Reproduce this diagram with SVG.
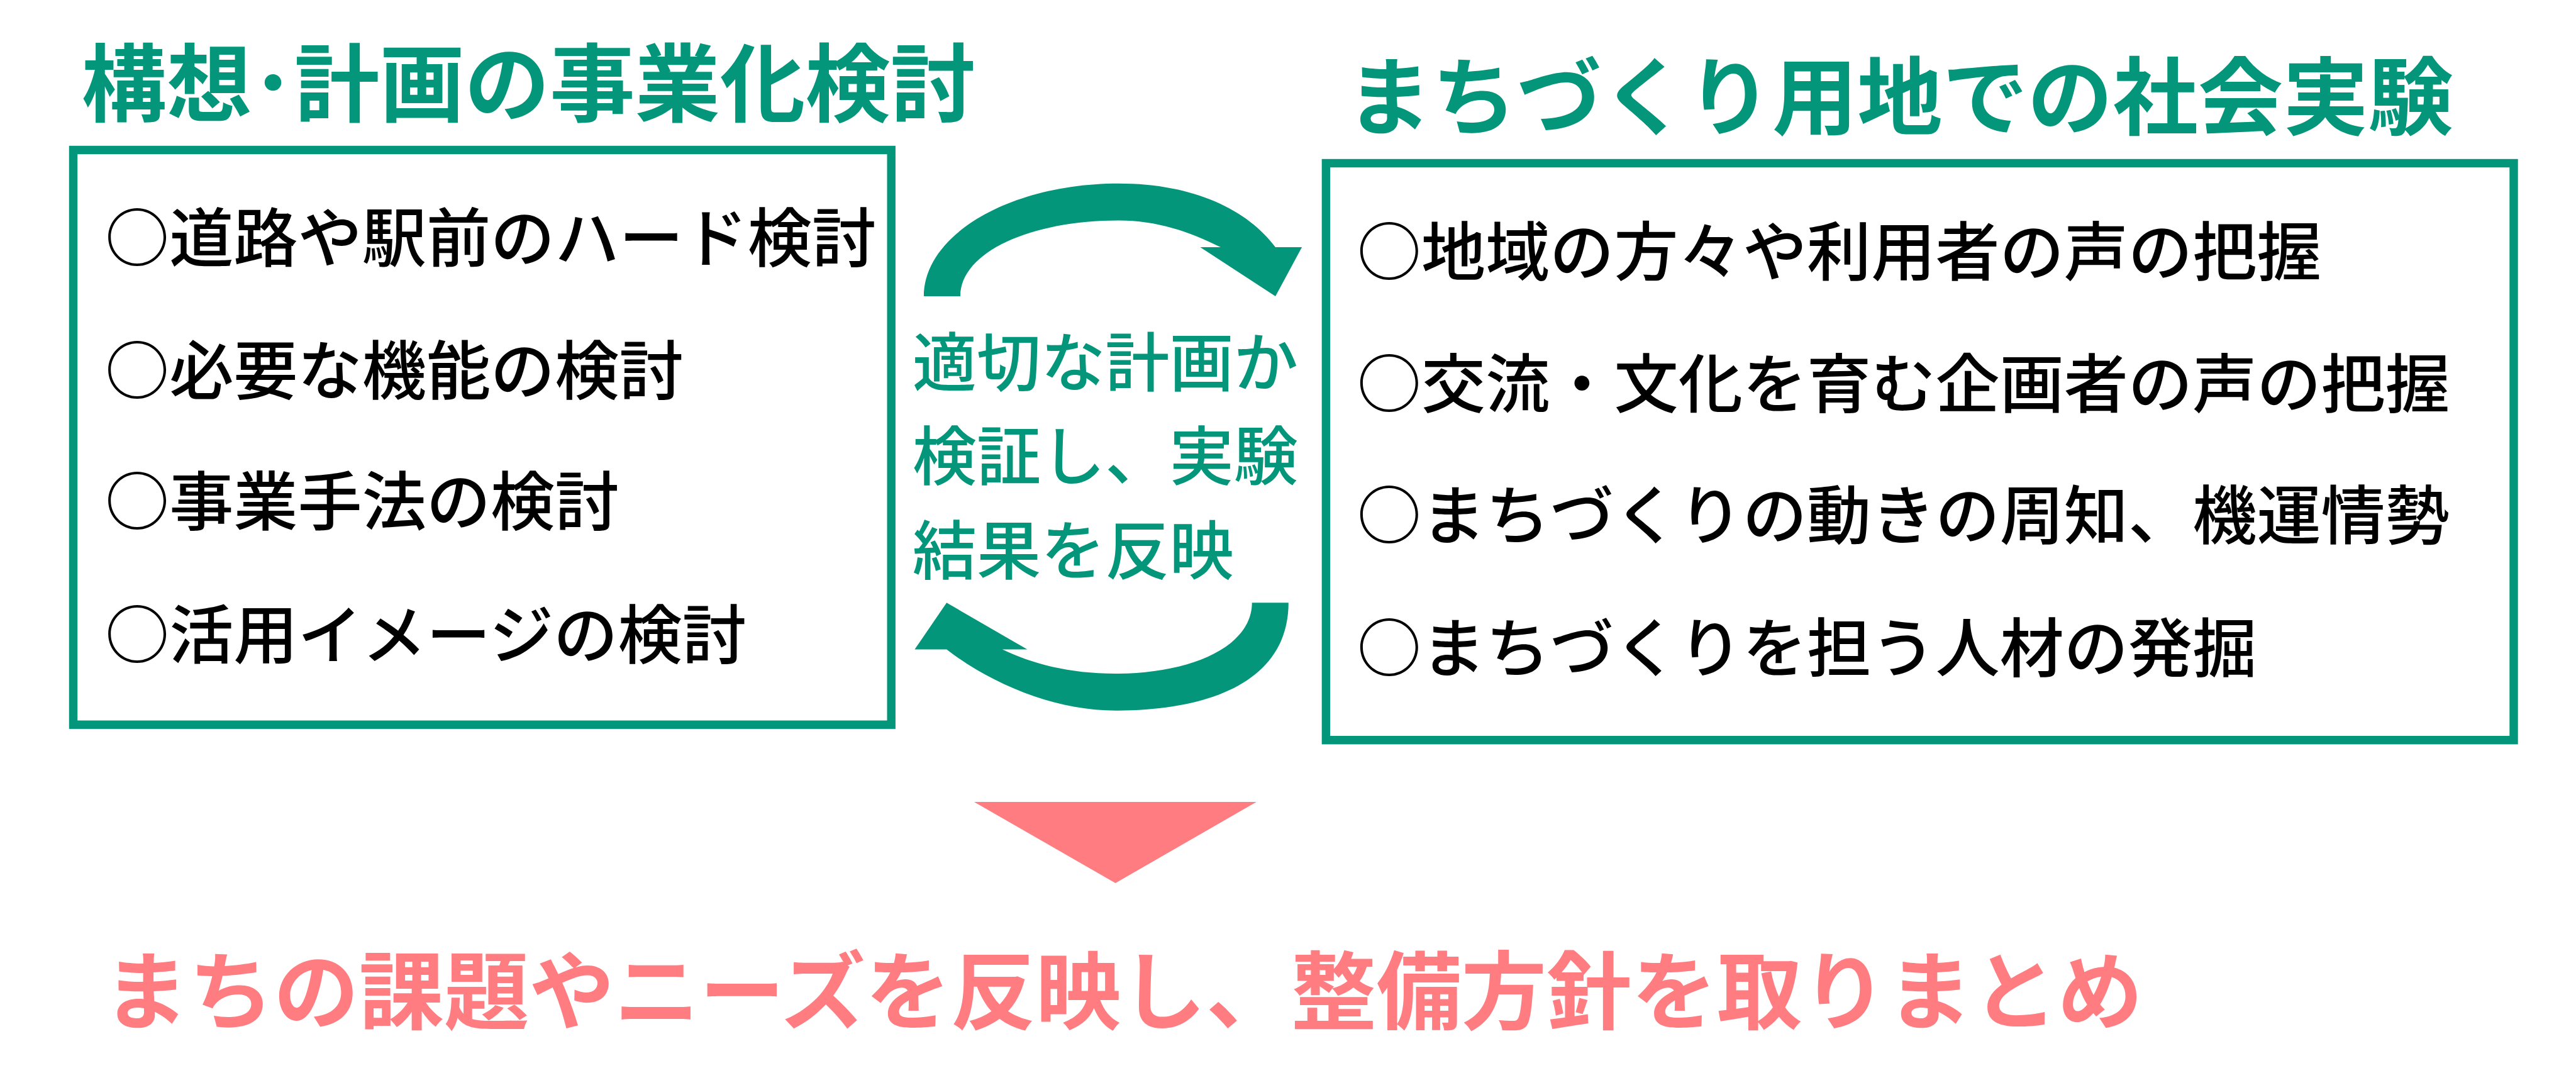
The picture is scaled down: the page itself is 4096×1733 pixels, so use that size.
<svg xmlns="http://www.w3.org/2000/svg" width="4096" height="1733" viewBox="0 0 4096 1733">
<style>
.t{font-family:"Noto Sans CJK JP","Noto Sans CJK SC",sans-serif}
.title{font-size:135.4px;font-weight:700;fill:#04967A}
.item{font-size:102.2px;font-weight:500;fill:#000}
.mid{font-size:102.2px;font-weight:500;fill:#04967A}
.bottom{font-size:135.4px;font-weight:700;fill:#FF7C81}
.box{fill:#fff;stroke:#04967A;stroke-width:13.4}
.arrow{fill:#04967A}
</style>
<rect width="4096" height="1733" fill="#fff"/>
<g id="title-left"><text class="t title" x="129.6" y="183.3">構想･計画の事業化検討</text></g>
<g id="title-right"><text class="t title" x="2141" y="204.3">まちづくり用地での社会実験</text></g>
<g id="box-left">
<rect class="box" x="116.5" y="238.5" width="1300.7" height="913.7"/>
<text class="t item" x="167" y="415.7">○道路や駅前のハード検討</text>
<text class="t item" x="167" y="627">○必要な機能の検討</text>
<text class="t item" x="167" y="835.4">○事業手法の検討</text>
<text class="t item" x="167" y="1046.8">○活用イメージの検討</text>
</g>
<g id="box-right">
<rect class="box" x="2108.4" y="259.5" width="1888.6" height="917.2"/>
<text class="t item" x="2157.8" y="437.9">○地域の方々や利用者の声の把握</text>
<text class="t item" x="2157.8" y="648">○交流・文化を育む企画者の声の把握</text>
<text class="t item" x="2157.8" y="857">○まちづくりの動きの周知、機運情勢</text>
<text class="t item" x="2157.8" y="1067.8">○まちづくりを担う人材の発掘</text>
</g>
<g id="cycle-label">
<text class="t mid" x="1450.8" y="614.2">適切な計画か</text>
<text class="t mid" x="1450.8" y="763">検証し、実験</text>
<text class="t mid" x="1450.8" y="912.5">結果を反映</text>
</g>
<g id="connectors">
<path class="arrow" d="M1468.9,471.1 C1468.9,371 1610,291.8 1778.7,291.8 C1900,291.8 1985,335 2028,392.9 L2070.1,392.9 L2028,471.1 L1908.4,392.9 L1940.9,392.9 C1890,368 1840,350.4 1778.7,350.4 C1640,350.4 1527,400 1527,471.1 Z"/>
<path class="arrow" d="M2048.8,958.3 C2048.8,1080 1930,1129.8 1773.9,1129.8 C1680,1129.8 1580,1090 1505.2,1032.6 L1454.4,1032.6 L1505.2,958.3 L1633.5,1032.6 L1593.8,1032.6 C1640,1055 1700,1071.1 1773.9,1071.1 C1890,1071.1 1990.7,1030 1990.7,958.3 Z"/>
<polygon fill="#FF7C81" points="1548.9,1275 1997.8,1275 1773.6,1404.1"/>
</g>
<g id="result"><text class="t bottom" x="164.6" y="1626">まちの課題やニーズを反映し、整備方針を取りまとめ</text></g>
</svg>
